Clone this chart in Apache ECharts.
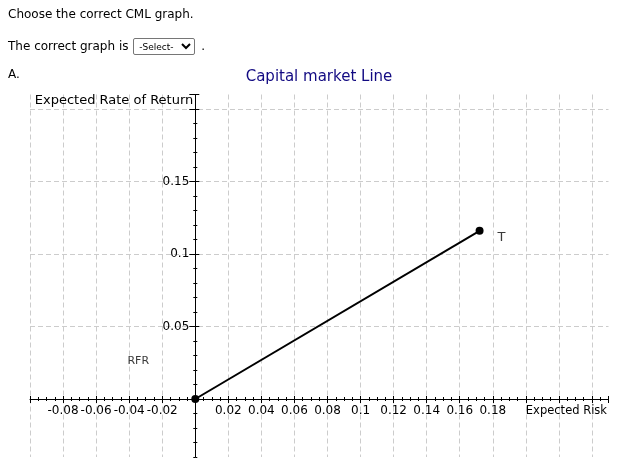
<!DOCTYPE html>
<html>
<head>
<meta charset="utf-8">
<script src="https://cdn.jsdelivr.net/npm/echarts@6/dist/echarts.min.js"></script>
<style>
  html, body { margin: 0; padding: 0; background: #fff; }
  body { width: 625px; height: 470px; position: relative; overflow: hidden; font-family: "DejaVu Sans", Verdana, sans-serif; font-size: 12px; color: #000; }
  #chart { position: absolute; left: 0; top: 0; width: 625px; height: 470px; }
  .txt { position: absolute; left: 8px; white-space: nowrap; z-index: 2; }
  #l1 { top: 7px; }
  #l2 { top: 38px; }
  #l3 { top: 67px; }
  select { font-family: "DejaVu Sans", Arial, sans-serif; font-size: 9px; height: 17px; width: 62px; padding: 0 1px; margin: 0 2px 0 1px; vertical-align: middle; border: 1px solid #767676; border-radius: 2px; background: #fff; }
</style>
</head>
<body>
<div id="chart"></div>
<div class="txt" id="l1">Choose the correct CML graph.</div>
<div class="txt" id="l2">The correct graph is <select><option>-Select-</option></select> .</div>
<div class="txt" id="l3">A.</div>
<script>
// ---- data ----
const titleText = 'Capital market Line';
const xName = 'Expected Risk';
const yName = 'Expected Rate of Return';
const xTickLabelValues = [-0.08, -0.06, -0.04, -0.02, 0.02, 0.04, 0.06, 0.08, 0.1, 0.12, 0.14, 0.16, 0.18];
const yTickLabelValues = [0.05, 0.1, 0.15];
const yMajorTicks = [0, 0.05, 0.1, 0.15, 0.2, 0.21];
const yMinorTicks = [-0.04, -0.03, -0.02, -0.01, 0.01, 0.02, 0.03, 0.04, 0.06, 0.07, 0.08, 0.09,
                     0.11, 0.12, 0.13, 0.14, 0.16, 0.17, 0.18, 0.19];
const pointNames = ['RFR', 'T'];
const riskValues = [0, 0.172];
const returnValues = [0, 0.116];
const xRange = [-0.1, 0.25];
const yRange = [-0.04, 0.21];

// ---- layout ----
const W = 625, H = 470;
const plotLeft = 30, plotRight = 608.5, plotTop = 94.5, plotBottom = 457;
const x0px = plotLeft + (0 - xRange[0]) / (xRange[1] - xRange[0]) * (plotRight - plotLeft);
const y0px = plotTop + (yRange[1] - 0) / (yRange[1] - yRange[0]) * (plotBottom - plotTop);

const FONT = 'DejaVu Sans';
const dash = { color: '#cccccc', type: [5, 3], width: 1 };
const hidden = { show: false };

const chart = echarts.init(document.getElementById('chart'), null, { renderer: 'canvas' });

const xBase = { type: 'value', min: xRange[0], max: xRange[1], interval: 0.02 };
const yBaseFull = { type: 'value', min: yRange[0], max: yRange[1], splitNumber: 5 };

const option = {
  animation: false,
  backgroundColor: 'transparent',
  title: {
    text: titleText, left: 314, top: 65, textAlign: 'center',
    textStyle: { fontFamily: FONT, fontSize: 15, fontWeight: 'normal', color: '#120a82' }
  },
  grid: [
    // 0: full plot area – grid lines only
    { left: plotLeft, right: W - plotRight, top: plotTop, bottom: H - plotBottom, containLabel: false },
    // 1: upper part – x axis sits on its bottom edge (y = 0)
    { left: plotLeft, right: W - plotRight, top: plotTop, bottom: H - y0px, containLabel: false },
    // 2: right part – y axis sits on its left edge (x = 0)
    { left: x0px, right: W - plotRight, top: plotTop, bottom: H - plotBottom, containLabel: false }
  ],
  xAxis: [
    Object.assign({}, xBase, {
      gridIndex: 0, axisLine: hidden, axisTick: hidden, axisLabel: hidden,
      splitLine: { show: true, showMinLine: true, showMaxLine: false, lineStyle: dash }
    }),
    Object.assign({}, xBase, {
      gridIndex: 1, position: 'bottom',
      name: xName, nameLocation: 'end', nameGap: -1.5,
      nameTextStyle: { fontFamily: FONT, fontSize: 11.5, color: '#000', align: 'right', verticalAlign: 'top', padding: [6, 0, 0, 0] },
      axisLine: { show: true, onZero: false, lineStyle: { color: '#000', width: 1 } },
      axisTick: { show: true, inside: false, length: 4, lineStyle: { color: '#000' } },
      minorTick: { show: true, splitNumber: 4, length: 2, lineStyle: { color: '#000' } },
      axisLabel: { customValues: xTickLabelValues, fontFamily: FONT, fontSize: 12, color: '#000', margin: 6, verticalAlign: 'top', hideOverlap: false },
      splitLine: hidden
    }),
    Object.assign({}, xBase, {
      gridIndex: 1, position: 'bottom',
      axisLine: { show: false, onZero: false },
      axisTick: { show: true, inside: true, length: 3, lineStyle: { color: '#000' } },
      minorTick: { show: true, splitNumber: 4, length: 2, lineStyle: { color: '#000' } },
      axisLabel: hidden, splitLine: hidden
    }),
    { type: 'value', gridIndex: 2, min: 0, max: xRange[1], show: false }
  ],
  yAxis: [
    Object.assign({}, yBaseFull, {
      gridIndex: 0, axisLine: hidden, axisTick: hidden, axisLabel: hidden,
      splitLine: { show: true, showMinLine: false, showMaxLine: false, lineStyle: dash }
    }),
    { type: 'value', gridIndex: 1, min: 0, max: yRange[1], show: false },
    Object.assign({}, yBaseFull, {
      gridIndex: 2, position: 'left',
      name: yName, nameLocation: 'end', nameGap: -6.5,
      nameTextStyle: { fontFamily: FONT, fontSize: 13, color: '#000', align: 'right', verticalAlign: 'middle', padding: [0, 2, 0, 0] },
      axisLine: { show: true, onZero: false, lineStyle: { color: '#000', width: 1 } },
      axisTick: { show: true, inside: false, length: 6, customValues: yMajorTicks, lineStyle: { color: '#000' } },
      axisLabel: { customValues: yTickLabelValues, fontFamily: FONT, fontSize: 12, color: '#000', margin: 6 },
      splitLine: hidden
    }),
    Object.assign({}, yBaseFull, {
      gridIndex: 2, position: 'left',
      axisLine: { show: false, onZero: false },
      axisTick: { show: true, inside: true, length: 4, customValues: yMajorTicks, lineStyle: { color: '#000' } },
      axisLabel: hidden, splitLine: hidden
    }),
    Object.assign({}, yBaseFull, {
      gridIndex: 2, position: 'left',
      axisLine: { show: false, onZero: false },
      axisTick: { show: true, inside: false, length: 2, customValues: yMinorTicks, lineStyle: { color: '#000' } },
      axisLabel: hidden, splitLine: hidden
    }),
    Object.assign({}, yBaseFull, {
      gridIndex: 2, position: 'left',
      axisLine: { show: false, onZero: false },
      axisTick: { show: true, inside: true, length: 2, customValues: yMinorTicks, lineStyle: { color: '#000' } },
      axisLabel: hidden, splitLine: hidden
    })
  ],
  series: [{
    type: 'line',
    xAxisIndex: 3, yAxisIndex: 2,
    clip: false,
    data: riskValues.map((x, i) => ({
      value: [x, returnValues[i]], name: pointNames[i],
      label: {
        show: true, formatter: pointNames[i], fontFamily: FONT, color: '#3a3a3a',
        fontSize: i === 0 ? 11 : 13,
        position: 'inside',
        offset: i === 0 ? [-57, -38] : [22, 7]
      }
    })),
    symbol: 'circle', symbolSize: 8, showSymbol: true,
    itemStyle: { color: '#000' },
    lineStyle: { color: '#000', width: 2 },
    z: 5
  }]
};
chart.setOption(option);
</script>
</body>
</html>
